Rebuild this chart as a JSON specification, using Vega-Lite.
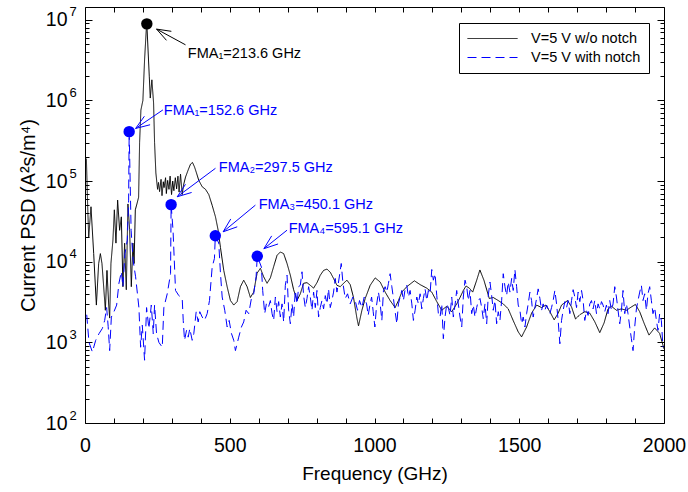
{
  "$schema": "https://vega.github.io/schema/vega-lite/v6.json",
  "width": 579,
  "height": 416,
  "autosize": {"type": "none"},
  "padding": {"left": 85, "top": 7, "right": 24, "bottom": 69},
  "datasets": {
    "psd": [
      {"s":"a","f":4.8,"v":1.9e5},{"s":"a","f":9.3,"v":4.8e4},{"s":"a","f":12.8,"v":2.0e4},{"s":"a","f":20.7,"v":4.8e4},{"s":"a","f":30,"v":1.26e4},{"s":"a","f":39.3,"v":2.9e3},{"s":"a","f":47.2,"v":9.5e3},{"s":"a","f":53.1,"v":1.26e4},{"s":"a","f":58.6,"v":9.5e3},{"s":"a","f":64.5,"v":4.9e3},{"s":"a","f":70.3,"v":2.5e3},{"s":"a","f":75.9,"v":7.8e3},{"s":"a","f":81.7,"v":3.0e3},{"s":"a","f":85.2,"v":2.0e3},{"s":"a","f":89.6,"v":9.5e3},{"s":"a","f":96.5,"v":1.86e4},{"s":"a","f":101.4,"v":4.4e4},{"s":"a","f":106.9,"v":1.7e4},{"s":"a","f":112.7,"v":5.8e4},{"s":"a","f":119.6,"v":2.45e4},{"s":"a","f":125.5,"v":3.6e4},{"s":"a","f":131,"v":4.9e3},{"s":"a","f":136.9,"v":1.7e4},{"s":"a","f":142.7,"v":4.5e3},{"s":"a","f":148.3,"v":5.2e4},{"s":"a","f":154.1,"v":2.5e4},{"s":"a","f":160,"v":4.9e3},{"s":"a","f":165.5,"v":1.7e4},{"s":"a","f":169.6,"v":9.5e3},{"s":"a","f":173.8,"v":4.4e4},{"s":"a","f":179.3,"v":5.2e4},{"s":"a","f":185.2,"v":6.3e4},{"s":"a","f":188.6,"v":3.0e5},{"s":"a","f":193.1,"v":7.6e5},{"s":"a","f":200,"v":1.0e6},{"s":"a","f":205.8,"v":3.2e6},{"s":"a","f":211.7,"v":7.6e6},{"s":"a","f":213.6,"v":8.9e6},{"s":"a","f":222,"v":2.0e6},{"s":"a","f":225.5,"v":1.07e6},{"s":"a","f":231,"v":1.8e6},{"s":"a","f":236.9,"v":9.3e5},{"s":"a","f":240.3,"v":3.0e5},{"s":"a","f":244.8,"v":1.26e5},{"s":"a","f":250.7,"v":7.9e4},{"s":"a","f":254,"v":9.6e4},{"s":"a","f":257.6,"v":7.4e4},{"s":"a","f":262.7,"v":1.05e5},{"s":"a","f":266,"v":6.6e4},{"s":"a","f":270.5,"v":9.8e4},{"s":"a","f":273.1,"v":8.3e4},{"s":"a","f":278.3,"v":1.1e5},{"s":"a","f":281,"v":7.0e4},{"s":"a","f":285.5,"v":1.02e5},{"s":"a","f":290,"v":7.9e4},{"s":"a","f":294,"v":1.15e5},{"s":"a","f":299,"v":6.8e4},{"s":"a","f":303,"v":1.0e5},{"s":"a","f":307,"v":7.6e4},{"s":"a","f":312,"v":1.1e5},{"s":"a","f":316.5,"v":8.0e4},{"s":"a","f":321,"v":1.15e5},{"s":"a","f":325,"v":7.3e4},{"s":"a","f":330,"v":1.22e5},{"s":"a","f":335.8,"v":6.8e4},{"s":"a","f":340.3,"v":8.9e4},{"s":"a","f":347.2,"v":1.12e5},{"s":"a","f":357.6,"v":1.41e5},{"s":"a","f":364.5,"v":1.62e5},{"s":"a","f":371.3,"v":1.7e5},{"s":"a","f":378.2,"v":1.5e5},{"s":"a","f":385.1,"v":1.26e5},{"s":"a","f":393,"v":1.02e5},{"s":"a","f":404.8,"v":8.5e4},{"s":"a","f":416.2,"v":7.9e4},{"s":"a","f":427.6,"v":6.8e4},{"s":"a","f":439.3,"v":5.0e4},{"s":"a","f":450.7,"v":3.6e4},{"s":"a","f":460,"v":2.45e4},{"s":"a","f":467.9,"v":1.5e4},{"s":"a","f":479.3,"v":7.8e3},{"s":"a","f":491,"v":4.9e3},{"s":"a","f":502.4,"v":3.3e3},{"s":"a","f":513.8,"v":2.9e3},{"s":"a","f":525.5,"v":3.2e3},{"s":"a","f":536.9,"v":4.9e3},{"s":"a","f":548.2,"v":5.9e3},{"s":"a","f":560,"v":4.9e3},{"s":"a","f":571.3,"v":3.6e3},{"s":"a","f":582.7,"v":4.2e3},{"s":"a","f":594.4,"v":7.2e3},{"s":"a","f":605.8,"v":8.3e3},{"s":"a","f":617.2,"v":6.5e3},{"s":"a","f":628.9,"v":5.4e3},{"s":"a","f":640.3,"v":6.3e3},{"s":"a","f":651.7,"v":8.7e3},{"s":"a","f":663.4,"v":1.2e4},{"s":"a","f":674.8,"v":1.32e4},{"s":"a","f":686.2,"v":1.26e4},{"s":"a","f":697.9,"v":9.5e3},{"s":"a","f":709.3,"v":6.8e3},{"s":"a","f":720.6,"v":4.5e3},{"s":"a","f":732.4,"v":3.3e3},{"s":"a","f":743.7,"v":4.0e3},{"s":"a","f":755.1,"v":5.4e3},{"s":"a","f":766.8,"v":5.5e3},{"s":"a","f":778.2,"v":5.1e3},{"s":"a","f":789.6,"v":4.7e3},{"s":"a","f":801.3,"v":5.5e3},{"s":"a","f":812.7,"v":6.8e3},{"s":"a","f":824.1,"v":7.8e3},{"s":"a","f":835.8,"v":8.1e3},{"s":"a","f":847.2,"v":7.4e3},{"s":"a","f":858.6,"v":6.2e3},{"s":"a","f":870.3,"v":5.1e3},{"s":"a","f":881.7,"v":4.9e3},{"s":"a","f":893,"v":5.4e3},{"s":"a","f":904.8,"v":5.9e3},{"s":"a","f":916.1,"v":5.2e3},{"s":"a","f":927.5,"v":3.6e3},{"s":"a","f":939.2,"v":2.0e3},{"s":"a","f":944.8,"v":1.6e3},{"s":"a","f":956.5,"v":2.5e3},{"s":"a","f":967.9,"v":3.5e3},{"s":"a","f":985.1,"v":5.1e3},{"s":"a","f":1002.3,"v":6.3e3},{"s":"a","f":1019.6,"v":5.6e3},{"s":"a","f":1036.8,"v":4.2e3},{"s":"a","f":1054,"v":3.3e3},{"s":"a","f":1071.3,"v":2.7e3},{"s":"a","f":1082.7,"v":3.3e3},{"s":"a","f":1094.4,"v":4.2e3},{"s":"a","f":1111.6,"v":4.9e3},{"s":"a","f":1137.8,"v":5.8e3},{"s":"a","f":1157.5,"v":5.2e3},{"s":"a","f":1180.6,"v":4.7e3},{"s":"a","f":1197.8,"v":4.2e3},{"s":"a","f":1215.1,"v":3.2e3},{"s":"a","f":1232.3,"v":2.5e3},{"s":"a","f":1249.5,"v":2.8e3},{"s":"a","f":1266.8,"v":2.4e3},{"s":"a","f":1284,"v":3.0e3},{"s":"a","f":1295.4,"v":3.6e3},{"s":"a","f":1306.8,"v":4.4e3},{"s":"a","f":1316.1,"v":5.0e3},{"s":"a","f":1327.5,"v":4.7e3},{"s":"a","f":1339.2,"v":4.2e3},{"s":"a","f":1353,"v":5.9e3},{"s":"a","f":1364,"v":7.9e3},{"s":"a","f":1378,"v":5.9e3},{"s":"a","f":1396.4,"v":3.5e3},{"s":"a","f":1410.2,"v":3.6e3},{"s":"a","f":1427.5,"v":3.3e3},{"s":"a","f":1444.7,"v":3.0e3},{"s":"a","f":1461.9,"v":2.6e3},{"s":"a","f":1479.2,"v":1.86e3},{"s":"a","f":1496.4,"v":1.35e3},{"s":"a","f":1508,"v":1.17e3},{"s":"a","f":1525.4,"v":1.55e3},{"s":"a","f":1542.6,"v":2.3e3},{"s":"a","f":1559.9,"v":2.9e3},{"s":"a","f":1577.1,"v":2.7e3},{"s":"a","f":1591.9,"v":2.9e3},{"s":"a","f":1605.7,"v":2.4e3},{"s":"a","f":1620.6,"v":1.9e3},{"s":"a","f":1634.4,"v":2.3e3},{"s":"a","f":1646.1,"v":2.9e3},{"s":"a","f":1666.8,"v":3.3e3},{"s":"a","f":1680.6,"v":2.75e3},{"s":"a","f":1694.4,"v":1.95e3},{"s":"a","f":1709.2,"v":2.2e3},{"s":"a","f":1726.4,"v":2.4e3},{"s":"a","f":1743.7,"v":2.3e3},{"s":"a","f":1760.9,"v":1.8e3},{"s":"a","f":1778.1,"v":1.32e3},{"s":"a","f":1793,"v":1.74e3},{"s":"a","f":1806.7,"v":2.6e3},{"s":"a","f":1818.5,"v":2.8e3},{"s":"a","f":1835.7,"v":2.5e3},{"s":"a","f":1853,"v":2.6e3},{"s":"a","f":1870.2,"v":2.5e3},{"s":"a","f":1887.4,"v":2.75e3},{"s":"a","f":1901.2,"v":2.95e3},{"s":"a","f":1916,"v":2.4e3},{"s":"a","f":1930.8,"v":1.74e3},{"s":"a","f":1948.1,"v":1.23e3},{"s":"a","f":1967.7,"v":1.51e3},{"s":"a","f":1985,"v":1.29e3},{"s":"a","f":2000,"v":830},
      {"s":"b","f":5.9,"v":2.2e3},{"s":"b","f":13.8,"v":1.0e3},{"s":"b","f":25.5,"v":760},{"s":"b","f":36.9,"v":1.06e3},{"s":"b","f":48.3,"v":1.28e3},{"s":"b","f":60,"v":1.49e3},{"s":"b","f":67.9,"v":1.87e3},{"s":"b","f":74.8,"v":2.7e3},{"s":"b","f":80,"v":1.58e3},{"s":"b","f":85.2,"v":790},{"s":"b","f":91,"v":2.06e3},{"s":"b","f":100,"v":2.4e3},{"s":"b","f":109.3,"v":2.9e3},{"s":"b","f":117.2,"v":5.4e3},{"s":"b","f":125.5,"v":7.5e3},{"s":"b","f":131,"v":4.9e3},{"s":"b","f":137.9,"v":1.26e4},{"s":"b","f":146.2,"v":1.85e4},{"s":"b","f":150.7,"v":5.8e4},{"s":"b","f":152.6,"v":4.1e5},{"s":"b","f":159.3,"v":2.45e4},{"s":"b","f":166.2,"v":1.04e4},{"s":"b","f":174.8,"v":6.5e3},{"s":"b","f":186.2,"v":2.7e3},{"s":"b","f":192.1,"v":870},{"s":"b","f":197.9,"v":1.63e3},{"s":"b","f":205.8,"v":600},{"s":"b","f":212.7,"v":2.7e3},{"s":"b","f":220.7,"v":1.48e3},{"s":"b","f":229,"v":2.9e3},{"s":"b","f":235.8,"v":1.28e3},{"s":"b","f":240.3,"v":2.9e3},{"s":"b","f":247.2,"v":1.28e3},{"s":"b","f":255.2,"v":1.0e3},{"s":"b","f":266.9,"v":870},{"s":"b","f":272.4,"v":2.7e3},{"s":"b","f":284.1,"v":4.0e3},{"s":"b","f":295.5,"v":7.1e3},{"s":"b","f":297.5,"v":5.1e4},{"s":"b","f":304.1,"v":2.45e4},{"s":"b","f":312.7,"v":4.4e3},{"s":"b","f":324.1,"v":3.8e3},{"s":"b","f":335.8,"v":3.5e3},{"s":"b","f":339.3,"v":1.87e3},{"s":"b","f":343.8,"v":1.06e3},{"s":"b","f":350.7,"v":1.41e3},{"s":"b","f":356.5,"v":1.16e3},{"s":"b","f":362,"v":1.48e3},{"s":"b","f":370.3,"v":1.06e3},{"s":"b","f":375.8,"v":1.28e3},{"s":"b","f":384.1,"v":2.4e3},{"s":"b","f":391,"v":1.79e3},{"s":"b","f":396.5,"v":2.4e3},{"s":"b","f":404.8,"v":2.06e3},{"s":"b","f":412.7,"v":1.87e3},{"s":"b","f":422,"v":2.27e3},{"s":"b","f":430,"v":3.3e3},{"s":"b","f":439.3,"v":8.6e3},{"s":"b","f":447.2,"v":1.1e4},{"s":"b","f":450.1,"v":2.1e4},{"s":"b","f":462,"v":1.7e4},{"s":"b","f":467.9,"v":7.2e3},{"s":"b","f":473.8,"v":3.65e3},{"s":"b","f":482.7,"v":2.5e3},{"s":"b","f":491,"v":1.55e3},{"s":"b","f":497.9,"v":1.87e3},{"s":"b","f":505.8,"v":1.29e3},{"s":"b","f":513.8,"v":1.06e3},{"s":"b","f":519.6,"v":790},{"s":"b","f":531,"v":1.16e3},{"s":"b","f":540.3,"v":1.55e3},{"s":"b","f":548.2,"v":1.79e3},{"s":"b","f":556.5,"v":2.5e3},{"s":"b","f":565.5,"v":2.27e3},{"s":"b","f":574.8,"v":3.5e3},{"s":"b","f":582.7,"v":4.0e3},{"s":"b","f":591,"v":6.5e3},{"s":"b","f":595.1,"v":1.17e4},{"s":"b","f":609.3,"v":8.6e3},{"s":"b","f":613.8,"v":4.4e3},{"s":"b","f":620.7,"v":2.27e3},{"s":"b","f":626.5,"v":3.0e3},{"s":"b","f":633.4,"v":2.7e3},{"s":"b","f":640.3,"v":3.3e3},{"s":"b","f":646.2,"v":2.27e3},{"s":"b","f":651.7,"v":1.87e3},{"s":"b","f":657.6,"v":3.65e3},{"s":"b","f":663.4,"v":2.4e3},{"s":"b","f":668.9,"v":3.2e3},{"s":"b","f":674.8,"v":2.06e3},{"s":"b","f":680.6,"v":3.0e3},{"s":"b","f":686.2,"v":1.79e3},{"s":"b","f":692,"v":5.1e3},{"s":"b","f":697.9,"v":6.8e3},{"s":"b","f":703.4,"v":2.5e3},{"s":"b","f":709.3,"v":1.7e3},{"s":"b","f":715.1,"v":3.0e3},{"s":"b","f":720.6,"v":2.06e3},{"s":"b","f":726.5,"v":4.4e3},{"s":"b","f":732.4,"v":3.0e3},{"s":"b","f":737.9,"v":4.9e3},{"s":"b","f":743.7,"v":5.1e3},{"s":"b","f":749.6,"v":7.5e3},{"s":"b","f":755.1,"v":3.8e3},{"s":"b","f":761,"v":2.7e3},{"s":"b","f":766.8,"v":3.5e3},{"s":"b","f":772.4,"v":4.9e3},{"s":"b","f":778.2,"v":3.65e3},{"s":"b","f":784.1,"v":2.5e3},{"s":"b","f":789.6,"v":4.2e3},{"s":"b","f":795.5,"v":2.7e3},{"s":"b","f":801.3,"v":4.4e3},{"s":"b","f":806.8,"v":2.06e3},{"s":"b","f":812.7,"v":2.7e3},{"s":"b","f":818.5,"v":3.3e3},{"s":"b","f":824.1,"v":2.6e3},{"s":"b","f":830,"v":3.8e3},{"s":"b","f":835.8,"v":3.0e3},{"s":"b","f":841.3,"v":4.6e3},{"s":"b","f":847.2,"v":2.7e3},{"s":"b","f":853,"v":3.3e3},{"s":"b","f":858.6,"v":4.2e3},{"s":"b","f":864.4,"v":6.2e3},{"s":"b","f":870.3,"v":4.2e3},{"s":"b","f":875.8,"v":5.6e3},{"s":"b","f":881.7,"v":7.8e3},{"s":"b","f":885.1,"v":9.5e3},{"s":"b","f":891,"v":5.4e3},{"s":"b","f":898.9,"v":3.5e3},{"s":"b","f":906.9,"v":4.0e3},{"s":"b","f":916.1,"v":3.0e3},{"s":"b","f":925.4,"v":3.65e3},{"s":"b","f":933.3,"v":3.3e3},{"s":"b","f":941.3,"v":2.5e3},{"s":"b","f":948.2,"v":3.3e3},{"s":"b","f":956.5,"v":2.7e3},{"s":"b","f":964.4,"v":3.65e3},{"s":"b","f":972.7,"v":3.0e3},{"s":"b","f":978.2,"v":2.16e3},{"s":"b","f":984.1,"v":2.9e3},{"s":"b","f":990,"v":3.65e3},{"s":"b","f":995.5,"v":2.4e3},{"s":"b","f":1001.3,"v":1.55e3},{"s":"b","f":1007.2,"v":2.9e3},{"s":"b","f":1013.7,"v":4.2e3},{"s":"b","f":1019.6,"v":3.0e3},{"s":"b","f":1025.4,"v":1.87e3},{"s":"b","f":1031,"v":4.4e3},{"s":"b","f":1036.8,"v":4.9e3},{"s":"b","f":1042.7,"v":4.2e3},{"s":"b","f":1048.2,"v":5.4e3},{"s":"b","f":1054,"v":7.1e3},{"s":"b","f":1059.9,"v":4.9e3},{"s":"b","f":1065.4,"v":3.5e3},{"s":"b","f":1071.3,"v":2.4e3},{"s":"b","f":1077.2,"v":1.7e3},{"s":"b","f":1082.7,"v":3.0e3},{"s":"b","f":1088.5,"v":3.65e3},{"s":"b","f":1094.4,"v":4.4e3},{"s":"b","f":1099.9,"v":3.3e3},{"s":"b","f":1105.8,"v":4.6e3},{"s":"b","f":1111.6,"v":5.1e3},{"s":"b","f":1117.2,"v":3.65e3},{"s":"b","f":1123,"v":4.4e3},{"s":"b","f":1128.9,"v":3.0e3},{"s":"b","f":1134.4,"v":1.87e3},{"s":"b","f":1140.3,"v":2.5e3},{"s":"b","f":1146.1,"v":3.65e3},{"s":"b","f":1151.6,"v":3.0e3},{"s":"b","f":1157.5,"v":4.0e3},{"s":"b","f":1163.3,"v":2.6e3},{"s":"b","f":1168.9,"v":3.5e3},{"s":"b","f":1174.7,"v":4.6e3},{"s":"b","f":1180.6,"v":3.3e3},{"s":"b","f":1186.1,"v":4.4e3},{"s":"b","f":1192,"v":4.0e3},{"s":"b","f":1197.8,"v":8.0e3},{"s":"b","f":1203.3,"v":5.9e3},{"s":"b","f":1209.2,"v":7.1e3},{"s":"b","f":1215.1,"v":3.8e3},{"s":"b","f":1220.6,"v":2.27e3},{"s":"b","f":1226.4,"v":2.06e3},{"s":"b","f":1232.3,"v":3.0e3},{"s":"b","f":1237.8,"v":1.11e3},{"s":"b","f":1243.7,"v":2.06e3},{"s":"b","f":1249.5,"v":3.0e3},{"s":"b","f":1255,"v":2.7e3},{"s":"b","f":1260.9,"v":2.16e3},{"s":"b","f":1266.8,"v":3.65e3},{"s":"b","f":1272.3,"v":2.06e3},{"s":"b","f":1278.2,"v":2.9e3},{"s":"b","f":1284,"v":4.4e3},{"s":"b","f":1289.5,"v":3.0e3},{"s":"b","f":1295.4,"v":2.06e3},{"s":"b","f":1301.3,"v":1.55e3},{"s":"b","f":1306.8,"v":3.65e3},{"s":"b","f":1312.7,"v":5.9e3},{"s":"b","f":1318.5,"v":4.9e3},{"s":"b","f":1324,"v":3.3e3},{"s":"b","f":1329.9,"v":4.4e3},{"s":"b","f":1335.7,"v":2.27e3},{"s":"b","f":1341.3,"v":2.9e3},{"s":"b","f":1347.1,"v":2.06e3},{"s":"b","f":1353,"v":2.7e3},{"s":"b","f":1358.5,"v":3.3e3},{"s":"b","f":1364.4,"v":3.5e3},{"s":"b","f":1370.2,"v":2.7e3},{"s":"b","f":1375.7,"v":1.97e3},{"s":"b","f":1381.6,"v":3.0e3},{"s":"b","f":1387.5,"v":1.7e3},{"s":"b","f":1393,"v":3.8e3},{"s":"b","f":1398.9,"v":5.6e3},{"s":"b","f":1404.7,"v":3.8e3},{"s":"b","f":1410.2,"v":2.5e3},{"s":"b","f":1416.1,"v":3.3e3},{"s":"b","f":1421.9,"v":1.7e3},{"s":"b","f":1427.5,"v":2.4e3},{"s":"b","f":1433.3,"v":1.87e3},{"s":"b","f":1439.2,"v":3.3e3},{"s":"b","f":1444.7,"v":7.1e3},{"s":"b","f":1450.6,"v":4.9e3},{"s":"b","f":1456.4,"v":3.8e3},{"s":"b","f":1461.9,"v":5.6e3},{"s":"b","f":1467.8,"v":4.2e3},{"s":"b","f":1473.7,"v":6.2e3},{"s":"b","f":1479.2,"v":4.4e3},{"s":"b","f":1485,"v":8.0e3},{"s":"b","f":1490.9,"v":4.9e3},{"s":"b","f":1496.4,"v":2.9e3},{"s":"b","f":1502.3,"v":2.5e3},{"s":"b","f":1508.2,"v":1.7e3},{"s":"b","f":1513.7,"v":2.06e3},{"s":"b","f":1519.6,"v":1.55e3},{"s":"b","f":1525.4,"v":2.27e3},{"s":"b","f":1530.9,"v":3.0e3},{"s":"b","f":1536.8,"v":4.2e3},{"s":"b","f":1542.6,"v":3.3e3},{"s":"b","f":1548.1,"v":2.06e3},{"s":"b","f":1554,"v":2.7e3},{"s":"b","f":1559.9,"v":3.5e3},{"s":"b","f":1565.4,"v":4.6e3},{"s":"b","f":1571.3,"v":3.5e3},{"s":"b","f":1577.1,"v":2.5e3},{"s":"b","f":1582.6,"v":3.0e3},{"s":"b","f":1588.5,"v":2.5e3},{"s":"b","f":1594.4,"v":2.9e3},{"s":"b","f":1599.9,"v":2.6e3},{"s":"b","f":1605.7,"v":2.27e3},{"s":"b","f":1611.6,"v":2.7e3},{"s":"b","f":1617.1,"v":3.3e3},{"s":"b","f":1623,"v":4.4e3},{"s":"b","f":1628.9,"v":3.0e3},{"s":"b","f":1634.4,"v":1.87e3},{"s":"b","f":1640.3,"v":960},{"s":"b","f":1646.1,"v":1.87e3},{"s":"b","f":1651.6,"v":2.5e3},{"s":"b","f":1657.5,"v":3.2e3},{"s":"b","f":1663.4,"v":2.7e3},{"s":"b","f":1668.9,"v":3.3e3},{"s":"b","f":1674.8,"v":2.27e3},{"s":"b","f":1680.6,"v":3.3e3},{"s":"b","f":1686.2,"v":4.5e3},{"s":"b","f":1692,"v":3.65e3},{"s":"b","f":1697.9,"v":2.7e3},{"s":"b","f":1703.4,"v":4.2e3},{"s":"b","f":1709.2,"v":3.2e3},{"s":"b","f":1715.1,"v":4.4e3},{"s":"b","f":1720.6,"v":3.3e3},{"s":"b","f":1726.4,"v":1.87e3},{"s":"b","f":1732.3,"v":2.5e3},{"s":"b","f":1737.8,"v":2.16e3},{"s":"b","f":1743.7,"v":3.0e3},{"s":"b","f":1749.5,"v":3.3e3},{"s":"b","f":1755,"v":2.6e3},{"s":"b","f":1760.9,"v":3.3e3},{"s":"b","f":1766.8,"v":2.27e3},{"s":"b","f":1772.3,"v":3.0e3},{"s":"b","f":1778.1,"v":2.6e3},{"s":"b","f":1784,"v":3.2e3},{"s":"b","f":1789.5,"v":2.9e3},{"s":"b","f":1795.4,"v":2.4e3},{"s":"b","f":1801.2,"v":2.9e3},{"s":"b","f":1806.7,"v":2.27e3},{"s":"b","f":1812.6,"v":3.3e3},{"s":"b","f":1818.5,"v":2.5e3},{"s":"b","f":1824,"v":3.0e3},{"s":"b","f":1829.9,"v":4.9e3},{"s":"b","f":1835.7,"v":3.65e3},{"s":"b","f":1841.2,"v":2.5e3},{"s":"b","f":1847.1,"v":1.7e3},{"s":"b","f":1853,"v":2.5e3},{"s":"b","f":1858.5,"v":4.4e3},{"s":"b","f":1864.4,"v":2.27e3},{"s":"b","f":1870.2,"v":3.0e3},{"s":"b","f":1875.7,"v":2.27e3},{"s":"b","f":1881.6,"v":1.55e3},{"s":"b","f":1887.4,"v":1.11e3},{"s":"b","f":1893,"v":790},{"s":"b","f":1898.8,"v":1.55e3},{"s":"b","f":1904.7,"v":2.6e3},{"s":"b","f":1910.2,"v":3.3e3},{"s":"b","f":1916.1,"v":4.2e3},{"s":"b","f":1921.9,"v":5.1e3},{"s":"b","f":1927.4,"v":3.3e3},{"s":"b","f":1933.3,"v":4.0e3},{"s":"b","f":1939.2,"v":2.5e3},{"s":"b","f":1944.7,"v":4.0e3},{"s":"b","f":1950.6,"v":4.9e3},{"s":"b","f":1956.4,"v":3.3e3},{"s":"b","f":1961.9,"v":2.27e3},{"s":"b","f":1967.8,"v":2.7e3},{"s":"b","f":1973.7,"v":1.87e3},{"s":"b","f":1979.2,"v":1.41e3},{"s":"b","f":1985,"v":2.27e3},{"s":"b","f":1990.9,"v":1.87e3},{"s":"b","f":1996.4,"v":870}
    ],
    "dotK": [{"f":213.6,"v":8.9e6}],
    "dotB": [{"f":152.6,"v":4.1e5},{"f":297.5,"v":5.1e4},{"f":450.1,"v":2.1e4},{"f":595.1,"v":1.17e4}],
    "arrK": [
      {"f":247.2,"v":7.66e6,"f2":347.2,"v2":4.89e6},
      {"f":247.2,"v":7.66e6,"f2":281.4,"v2":5.56e6},
      {"f":247.2,"v":7.66e6,"f2":298.3,"v2":7.19e6}
    ],
    "arrB": [
      {"f":174.8,"v":4.49e5,"f2":269.0,"v2":7.62e5},
      {"f":174.8,"v":4.49e5,"f2":224.8,"v2":4.99e5},
      {"f":174.8,"v":4.49e5,"f2":205.2,"v2":6.36e5},
      {"f":318.6,"v":6.39e4,"f2":450.7,"v2":1.44e5},
      {"f":318.6,"v":6.39e4,"f2":368.3,"v2":7.22e4},
      {"f":318.6,"v":6.39e4,"f2":347.2,"v2":9.12e4},
      {"f":477.2,"v":2.35e4,"f2":588.6,"v2":5.03e4},
      {"f":477.2,"v":2.35e4,"f2":525.9,"v2":2.71e4},
      {"f":477.2,"v":2.35e4,"f2":503.5,"v2":3.39e4},
      {"f":617.9,"v":1.45e4,"f2":697.9,"v2":2.46e4},
      {"f":617.9,"v":1.45e4,"f2":666.9,"v2":1.66e4},
      {"f":617.9,"v":1.45e4,"f2":644.8,"v2":2.09e4}
    ],
    "labK": [{"f":355.2,"v":3.78e6,"t":"FMA₁=213.6 GHz"}],
    "labB": [
      {"f":272.4,"v":7.41e5,"t":"FMA₁=152.6 GHz"},
      {"f":462.1,"v":1.45e5,"t":"FMA₂=297.5 GHz"},
      {"f":600,"v":5.03e4,"t":"FMA₃=450.1 GHz"},
      {"f":703.4,"v":2.53e4,"t":"FMA₄=595.1 GHz"}
    ]
  },
  "resolve": {"axis": {"x": "independent", "y": "independent"}},
  "layer": [
    {
      "data": {"name": "psd"},
      "mark": {"type": "line", "strokeWidth": 1, "interpolate": "linear"},
      "encoding": {
        "x": {"field": "f", "type": "quantitative", "scale": {"domain": [0, 2000], "nice": false, "zero": false},
          "axis": {"orient": "bottom", "values": [0,100,200,300,400,500,600,700,800,900,1000,1100,1200,1300,1400,1500,1600,1700,1800,1900,2000],
            "format": "d", "labelExpr": "datum.value % 500 == 0 ? datum.label : ''", "tickSize": -5, "labelPadding": 18,
            "labelFontSize": 19.5, "title": "Frequency (GHz)", "titleFontSize": 19, "titleX": 289.5, "titleY": 56,
            "titleAlign": "center", "titleBaseline": "alphabetic"}},
        "y": {"field": "v", "type": "quantitative", "scale": {"type": "log", "domain": [100, 1.44e7], "nice": false},
          "axis": {"orient": "left", "values": [100,200,300,400,500,600,700,800,900,1000,2000,3000,4000,5000,6000,7000,8000,9000,10000,20000,30000,40000,50000,60000,70000,80000,90000,100000,200000,300000,400000,500000,600000,700000,800000,900000,1000000,2000000,3000000,4000000,5000000,6000000,7000000,8000000,9000000,10000000],
            "labelExpr": "abs(log(datum.value)/LN10 - round(log(datum.value)/LN10)) < 0.001 ? '10' : ''",
            "tickSize": {"condition": {"test": "abs(log(datum.value)/LN10 - round(log(datum.value)/LN10)) < 0.001", "value": -7}, "value": -4},
            "labelPadding": 25, "labelFontSize": 19.5, "labelBaseline": "middle",
            "title": "Current PSD (A²s/m⁴)", "titleFontSize": 20, "titleX": -57, "titleY": 208, "titleAlign": "center", "titleBaseline": "middle", "titleAngle": -90}},
        "color": {"field": "s", "type": "nominal", "scale": {"domain": ["a", "b"], "range": ["#000000", "#0000ff"]},
          "legend": {"orient": "none", "legendX": 374, "legendY": 16, "title": null, "strokeColor": "#000000", "fillColor": "#ffffff",
            "padding": 8, "symbolType": "stroke", "symbolSize": 2500, "symbolStrokeWidth": 1, "labelFontSize": 14.5, "labelColor": "#000000",
            "labelOffset": 13, "rowPadding": 3, "clipHeight": 15, "cornerRadius": 0,
            "labelExpr": "datum.label == 'a' ? 'V=5 V w/o notch' : 'V=5 V with notch'"}},
        "strokeDash": {"field": "s", "type": "nominal", "scale": {"domain": ["a", "b"], "range": [[1, 0], [9, 5]]}}
      }
    },
    {
      "data": {"name": "arrK"},
      "mark": {"type": "rule", "color": "#000000", "strokeWidth": 1},
      "encoding": {
        "x": {"field": "f", "type": "quantitative", "scale": {"domain": [0, 2000], "nice": false, "zero": false}, "axis": null},
        "x2": {"field": "f2"},
        "y": {"field": "v", "type": "quantitative", "scale": {"type": "log", "domain": [100, 1.44e7], "nice": false}, "axis": null},
        "y2": {"field": "v2"}
      }
    },
    {
      "data": {"name": "arrB"},
      "mark": {"type": "rule", "color": "#0000ff", "strokeWidth": 1},
      "encoding": {
        "x": {"field": "f", "type": "quantitative", "scale": {"domain": [0, 2000], "nice": false, "zero": false}, "axis": null},
        "x2": {"field": "f2"},
        "y": {"field": "v", "type": "quantitative", "scale": {"type": "log", "domain": [100, 1.44e7], "nice": false}, "axis": null},
        "y2": {"field": "v2"}
      }
    },
    {
      "data": {"name": "dotK"},
      "mark": {"type": "point", "filled": true, "shape": "circle", "size": 130, "color": "#000000", "opacity": 1},
      "encoding": {
        "x": {"field": "f", "type": "quantitative", "scale": {"domain": [0, 2000], "nice": false, "zero": false}, "axis": null},
        "y": {"field": "v", "type": "quantitative", "scale": {"type": "log", "domain": [100, 1.44e7], "nice": false},
          "axis": {"orient": "left", "values": [100,1000,10000,100000,1000000,10000000],
            "labelExpr": "'' + round(log(datum.value)/LN10)", "ticks": false, "tickSize": 0, "domain": false,
            "labelAlign": "left", "labelPadding": 16, "labelOffset": -8, "labelFontSize": 13, "labelBaseline": "middle", "title": null}}
      }
    },
    {
      "data": {"name": "dotB"},
      "mark": {"type": "point", "filled": true, "shape": "circle", "size": 130, "color": "#0000ff", "opacity": 1},
      "encoding": {
        "x": {"field": "f", "type": "quantitative", "scale": {"domain": [0, 2000], "nice": false, "zero": false},
          "axis": {"orient": "top", "values": [0,100,200,300,400,500,600,700,800,900,1000,1100,1200,1300,1400,1500,1600,1700,1800,1900,2000],
            "labels": false, "tickSize": -5, "title": null}},
        "y": {"field": "v", "type": "quantitative", "scale": {"type": "log", "domain": [100, 1.44e7], "nice": false},
          "axis": {"orient": "right", "values": [100,200,300,400,500,600,700,800,900,1000,2000,3000,4000,5000,6000,7000,8000,9000,10000,20000,30000,40000,50000,60000,70000,80000,90000,100000,200000,300000,400000,500000,600000,700000,800000,900000,1000000,2000000,3000000,4000000,5000000,6000000,7000000,8000000,9000000,10000000],
            "labels": false, "title": null,
            "tickSize": {"condition": {"test": "abs(log(datum.value)/LN10 - round(log(datum.value)/LN10)) < 0.001", "value": -7}, "value": -4}}}
      }
    },
    {
      "data": {"name": "labK"},
      "mark": {"type": "text", "align": "left", "baseline": "middle", "fontSize": 14.5, "color": "#000000"},
      "encoding": {
        "x": {"field": "f", "type": "quantitative", "scale": {"domain": [0, 2000], "nice": false, "zero": false}, "axis": null},
        "y": {"field": "v", "type": "quantitative", "scale": {"type": "log", "domain": [100, 1.44e7], "nice": false}, "axis": null},
        "text": {"field": "t"}
      }
    },
    {
      "data": {"name": "labB"},
      "mark": {"type": "text", "align": "left", "baseline": "middle", "fontSize": 14.5, "color": "#0000ff"},
      "encoding": {
        "x": {"field": "f", "type": "quantitative", "scale": {"domain": [0, 2000], "nice": false, "zero": false}, "axis": null},
        "y": {"field": "v", "type": "quantitative", "scale": {"type": "log", "domain": [100, 1.44e7], "nice": false}, "axis": null},
        "text": {"field": "t"}
      }
    }
  ],
  "config": {
    "font": "Liberation Sans",
    "view": {"stroke": "#000000", "strokeWidth": 1},
    "axis": {"tickColor": "#000000", "labelColor": "#000000", "titleColor": "#000000", "titleFontWeight": "normal",
      "grid": false, "domain": false, "labelOverlap": false, "labelFlush": false, "labelBound": false, "labelFont": "Liberation Sans", "titleFont": "Liberation Sans"},
    "legend": {"labelFont": "Liberation Sans"}
  }
}
